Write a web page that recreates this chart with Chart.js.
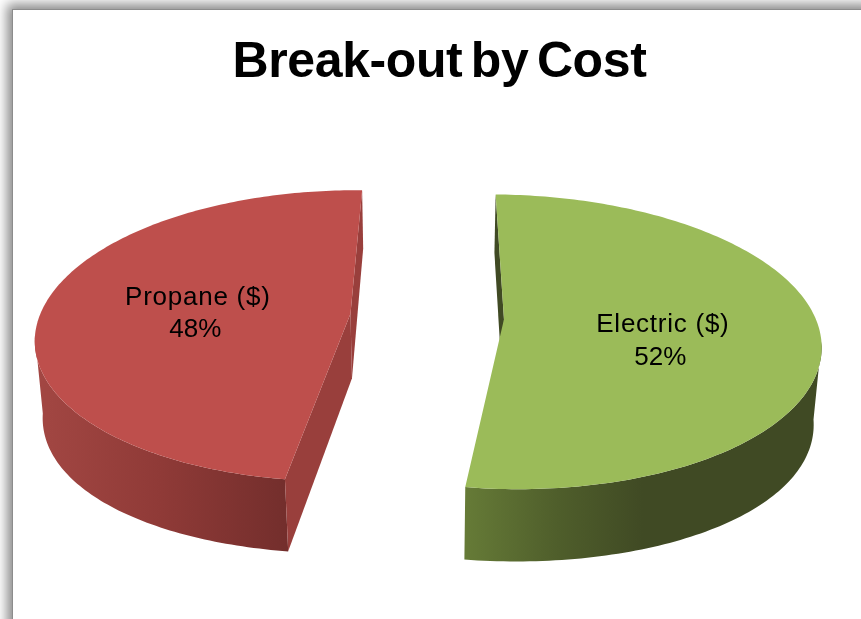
<!doctype html>
<html lang="en">
  <head>
    <meta charset="utf-8">
    <title>Break-out by Cost</title>
    <style>
      * {
        margin: 0;
        padding: 0;
      }
      html, body {
        width: 861px;
        height: 619px;
        overflow: hidden;
        background: #fff;
      }
      .chartBox {
        position: absolute;
        left: 12px;
        top: 9px;
        width: 853px;
        height: 640px;
        background: #fff;
        border: 1px solid #8c8c8c;
        box-shadow: 0 0 11px 5px #8a8a8a;
      }
    </style>
  </head>
  <body>
    <div class="chartBox">
      <canvas id="myChart" width="853" height="640"></canvas>
    </div>
    <script src="https://cdn.jsdelivr.net/npm/chart.js"></script>
    <script>
    const categories = ['Electric ($)', 'Propane ($)'];
    const shares = [52, 48];
    const topColors = ['#9BBB59', '#BE4F4C'];
    const cutColors = ['#404A24', '#993F3C'];
    const sideStops = [
      [[0, '#667B37'], [0.26, '#4F5E2B'], [0.5, '#404A24'], [1, '#404A24']],
      [[0, '#A34743'], [0.5, '#8F3A37'], [1, '#732E2C']]
    ];
    // nudge of each label from the middle of its slice
    const labelNudge = [[2, 7.3], [0.5, -3.3]];
    const percentNudge = -2.5;

    // perspective used to lay the flat pie down
    const tilt = 0.46;
    const depthFalloff = 0.152;
    const thickness = 66;
    const thicknessShrink = 0.02;
    const shiftX = -12.5;
    const backLean = 3;
    const lowerRimSag = 12;
    const wallStart = 0.15;

    function projector(el) {
      return function (px, py, z) {
        const u = px - el.x;
        const v = py - el.y;
        const n = v / el.outerRadius;
        const w = 1 - depthFalloff * n + thicknessShrink * z;
        // the far side of the pie leans a little to the left
        const lean = n < 0 ? backLean * n * n : 0;
        return [el.x + shiftX - lean + u / w, el.y + (tilt * v + thickness * z) / w];
      };
    }

    function trace(ctx, pts) {
      ctx.beginPath();
      pts.forEach((p, i) => i ? ctx.lineTo(p[0], p[1]) : ctx.moveTo(p[0], p[1]));
      ctx.closePath();
    }

    const pie3d = {
      id: 'pie3d',
      beforeDraw(chart) {
        // tighter title than the font's default spacing
        chart.ctx.letterSpacing = '-0.4px';
        chart.ctx.wordSpacing = '-5px';
      },
      beforeDatasetsDraw(chart) {
        const ctx = chart.ctx;
        const arcs = chart.getDatasetMeta(0).data;
        ctx.wordSpacing = '0px';

        arcs.forEach((el, i) => {
          const project = projector(el);
          const mid = (el.startAngle + el.endAngle) / 2;
          const ax = el.x + Math.cos(mid) * el.options.offset;
          const ay = el.y + Math.sin(mid) * el.options.offset;
          const rim = (a, z) => project(ax + Math.cos(a) * el.outerRadius, ay + Math.sin(a) * el.outerRadius, z);
          // lower edge of the wall hangs a bit further at the sides of the pie
          const lowerRim = a => {
            const p = rim(a, 1);
            return [p[0], p[1] + lowerRimSag * Math.cos(a) * Math.cos(a)];
          };

          const angles = [];
          for (let k = 0; k <= 180; k++) {
            angles.push(el.startAngle + (el.endAngle - el.startAngle) * k / 180);
          }

          // outer wall, front part only
          const front = angles.filter(a => Math.sin(a) > wallStart);
          const wall = front.map(a => rim(a, 0)).concat(front.slice().reverse().map(lowerRim));
          const xs = wall.map(p => p[0]);
          const grad = ctx.createLinearGradient(Math.min(...xs), 0, Math.max(...xs), 0);
          sideStops[i].forEach(s => grad.addColorStop(s[0], s[1]));
          ctx.fillStyle = grad;
          trace(ctx, wall);
          ctx.fill();

          // the two cut faces
          ctx.fillStyle = cutColors[i];
          [el.startAngle, el.endAngle].forEach(a => {
            trace(ctx, [project(ax, ay, 0), project(ax, ay, 1), rim(a, 1), rim(a, 0)]);
            if (i === 1 || a === el.startAngle) ctx.fill();
          });

          // top face
          ctx.fillStyle = el.options.backgroundColor;
          trace(ctx, [project(ax, ay, 0)].concat(angles.map(a => rim(a, 0))));
          ctx.fill();
        });

        // labels with the percentage under the name
        ctx.fillStyle = '#000';
        ctx.font = '26px "Liberation Sans"';
        ctx.textAlign = 'center';
        ctx.textBaseline = 'alphabetic';
        arcs.forEach((el, i) => {
          const mid = (el.startAngle + el.endAngle) / 2;
          const r = el.options.offset + el.outerRadius * 0.5;
          const p = projector(el)(el.x + Math.cos(mid) * r, el.y + Math.sin(mid) * r, 0);
          const x = p[0] + labelNudge[i][0];
          const y = p[1] + labelNudge[i][1];
          ctx.letterSpacing = '0.75px';
          ctx.fillText(categories[i], x, y);
          ctx.letterSpacing = '0px';
          ctx.fillText(shares[i] + '%', x + percentNudge, y + 32.5);
        });
        return false;
      }
    };

    const myChart = new Chart(document.getElementById('myChart'), {
      type: 'pie',
      data: {
        labels: categories,
        datasets: [{
          data: shares,
          backgroundColor: topColors,
          borderWidth: 0,
          offset: 77,
          rotation: 1
        }]
      },
      options: {
        responsive: false,
        animation: false,
        radius: 311,
        layout: { padding: { bottom: 110 } },
        plugins: {
          legend: { display: false },
          tooltip: { enabled: false },
          title: {
            display: true,
            text: 'Break-out by Cost',
            color: '#000',
            font: { family: '"Liberation Sans"', size: 50, weight: 'bold' },
            padding: { top: 23, bottom: 0 }
          }
        }
      },
      plugins: [pie3d]
    });
    </script>
  </body>
</html>
